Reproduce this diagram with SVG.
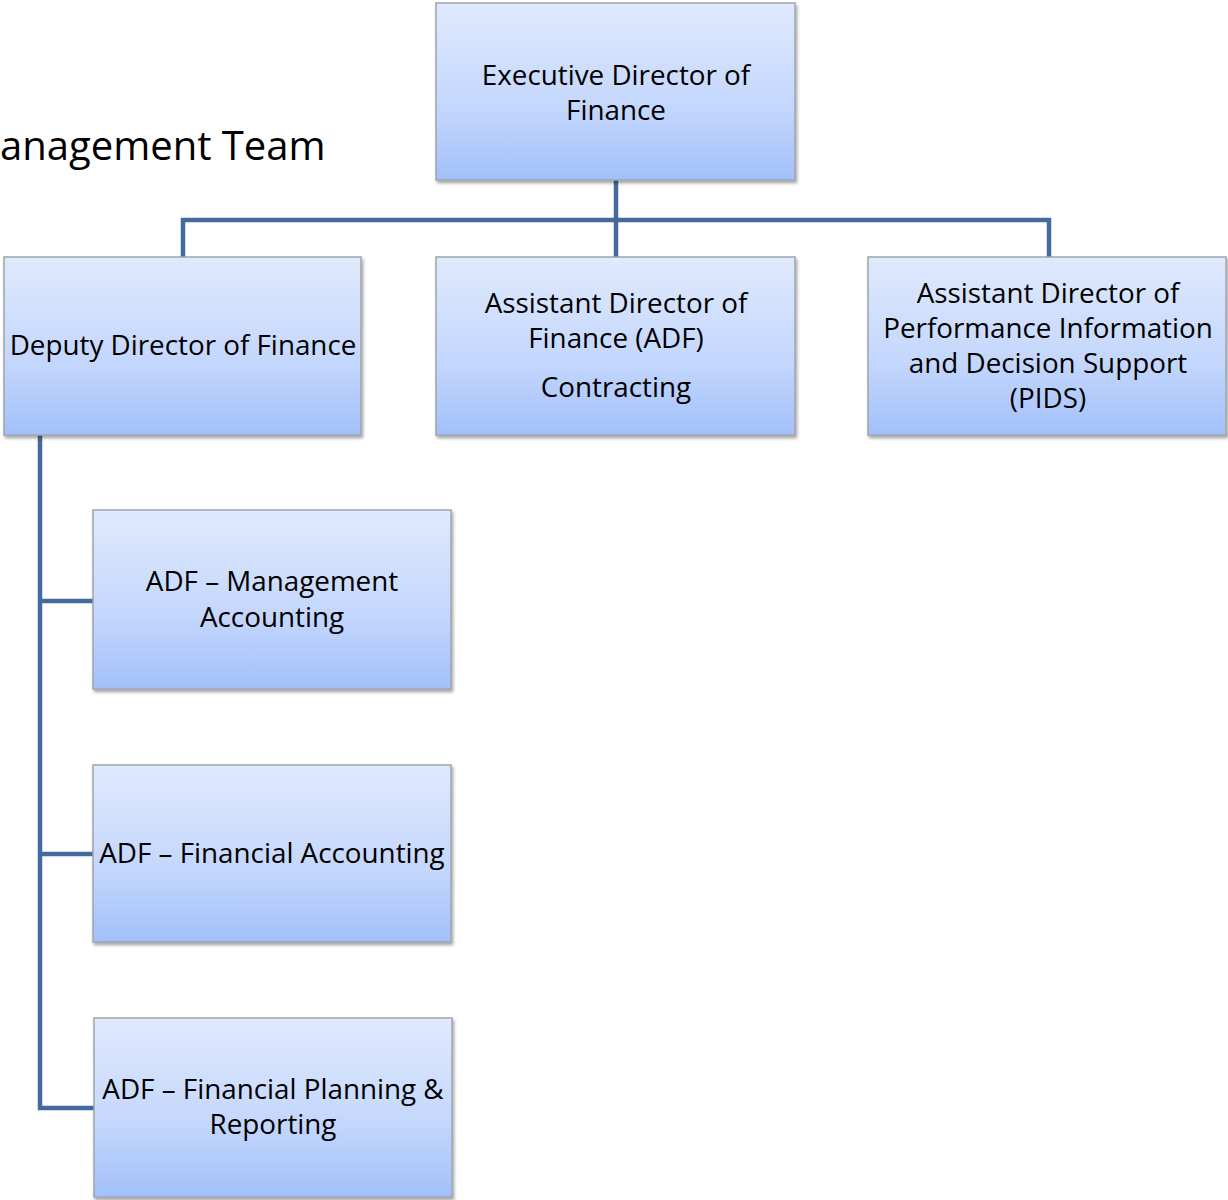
<svg xmlns="http://www.w3.org/2000/svg" width="1228" height="1200" viewBox="0 0 1228 1200">
<defs>
<linearGradient id="g" x1="0" y1="0" x2="0" y2="1">
<stop offset="0" stop-color="#e0eafd"/>
<stop offset="0.6" stop-color="#c3d6fc"/>
<stop offset="1" stop-color="#a2c0fa"/>
</linearGradient>
<filter id="sh" x="-5%" y="-5%" width="110%" height="115%">
<feDropShadow dx="1.5" dy="2.5" stdDeviation="1.5" flood-color="#000" flood-opacity="0.35"/>
</filter>
</defs>
<style>
.box{fill:url(#g);stroke:#9ea4ad;stroke-width:1.5;filter:url(#sh)}
.t{font-family:"Open Sans","Noto Sans","Liberation Sans",sans-serif;font-size:27.8px;fill:#000;text-anchor:middle}
.c{fill:none;stroke:#44699d;stroke-width:4.5}
</style>
<rect width="1228" height="1200" fill="#fff"/>
<text x="0" y="160" font-family="'Open Sans','Noto Sans','Liberation Sans',sans-serif" font-size="40" fill="#000">anagement Team</text>
<g id="connectors">
<path class="c" d="M616 180V257M183 257V220H1049V257"/>
<path class="c" d="M40 435V1108H94M40 601H93M40 854H93"/>
</g>
<g id="exec"><rect class="box" x="436" y="3" width="359" height="177"/>
<text class="t" x="616" y="85">Executive Director of</text><text class="t" x="616" y="120">Finance</text></g>
<g id="deputy"><rect class="box" x="4" y="257" width="357" height="178"/>
<text class="t" x="183" y="355">Deputy Director of Finance</text></g>
<g id="contracting"><rect class="box" x="436" y="257" width="359" height="178"/>
<text class="t" x="616" y="313">Assistant Director of</text><text class="t" x="616" y="348">Finance (ADF)</text><text class="t" x="616" y="397">Contracting</text></g>
<g id="pids"><rect class="box" x="868" y="257" width="358" height="178"/>
<text class="t" x="1048" y="303">Assistant Director of</text><text class="t" x="1048" y="338">Performance Information</text><text class="t" x="1048" y="373">and Decision Support</text><text class="t" x="1048" y="408">(PIDS)</text></g>
<g id="ma"><rect class="box" x="93" y="510" width="358" height="179"/>
<text class="t" x="272" y="591">ADF – Management</text><text class="t" x="272" y="627">Accounting</text></g>
<g id="fa"><rect class="box" x="93" y="765" width="358" height="177"/>
<text class="t" x="272" y="863">ADF – Financial Accounting</text></g>
<g id="fpr"><rect class="box" x="94" y="1018" width="358" height="179"/>
<text class="t" x="273" y="1099">ADF – Financial Planning &amp;</text><text class="t" x="273" y="1134">Reporting</text></g>
</svg>
